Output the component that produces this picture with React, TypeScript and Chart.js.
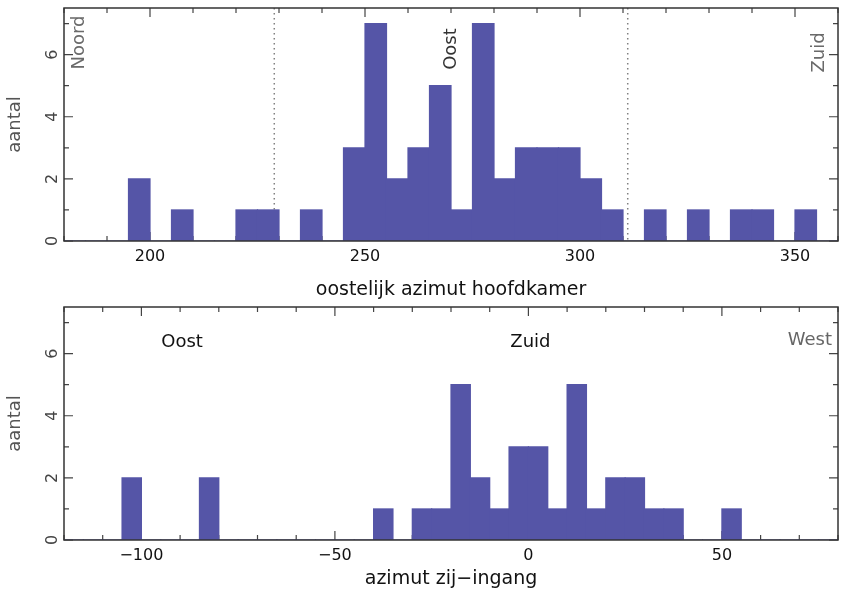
import React, { useEffect, useRef } from 'react';
import { Chart, registerables } from 'chart.js';

Chart.register(...registerables);

// ---- data: oostelijk azimut hoofdkamer (5 degree bins, bin start values)
const mainBinStarts = [180, 185, 190, 195, 200, 205, 210, 215, 220, 225, 230, 235, 240, 245, 250, 255, 260, 265, 270, 275, 280, 285, 290, 295, 300, 305, 310, 315, 320, 325, 330, 335, 340, 345, 350, 355];
const mainCounts = [0, 0, 0, 2, 0, 1, 0, 0, 1, 1, 0, 1, 0, 3, 7, 2, 3, 5, 1, 7, 2, 3, 3, 3, 2, 1, 0, 1, 0, 1, 0, 1, 1, 0, 1, 0];
const mainRange = [180, 360];
const mainTickLabels = [200, 250, 300, 350];
const mainDirectionNames = ['Noord', 'Oost', 'Zuid'];
const mainDirectionAzimuths = [180, 270, 360];
const solsticeAzimuths = [228.9, 311.1];

// ---- data: azimut zij-ingang
const sideBinStarts = [-120, -115, -110, -105, -100, -95, -90, -85, -80, -75, -70, -65, -60, -55, -50, -45, -40, -35, -30, -25, -20, -15, -10, -5, 0, 5, 10, 15, 20, 25, 30, 35, 40, 45, 50, 55, 60, 65, 70, 75];
const sideCounts = [0, 0, 0, 2, 0, 0, 0, 2, 0, 0, 0, 0, 0, 0, 0, 0, 1, 0, 1, 1, 5, 2, 1, 3, 3, 1, 5, 1, 2, 2, 1, 1, 0, 0, 1, 0, 0, 0, 0, 0];
const sideRange = [-120, 80];
const sideTickLabels = [-100, -50, 0, 50];
const sideDirectionNames = ['Oost', 'Zuid', 'West'];
const sideDirectionAzimuths = [-90, 0, 90];

const binWidth = 5;
const countMax = 7.5;
const countTickLabels = [0, 2, 4, 6];

const FONT = "'DejaVu Sans', 'Liberation Sans', sans-serif";
const BAR = '#5555a7';

const fmt = (v: number) => (v < 0 ? '\u2212' + Math.abs(v) : String(v));

type PanelSpec = {
  height: number;
  padTop: number;
  xHeight: number;
  titleBottom: number;
  starts: number[];
  counts: number[];
  range: number[];
  tickLabels: number[];
  title: string;
  dirNames: string[];
  dirValues: number[];
  dotted: number[];
  rotatedLabels: boolean;
  labelDy: number[];
  labelColors: string[];
};

function makeDecor(spec: PanelSpec) {
  return {
    id: 'decor',
    beforeDatasetsDraw(chart: any) {
      const { ctx, chartArea: a, scales } = chart;
      const x = scales.x;
      const y = scales.y;
      ctx.save();
      // dotted reference lines
      ctx.strokeStyle = '#808080';
      ctx.lineWidth = 1.5;
      ctx.setLineDash([1.5, 3.5]);
      for (const v of spec.dotted) {
        const px = x.getPixelForValue(v);
        ctx.beginPath();
        ctx.moveTo(px, a.top);
        ctx.lineTo(px, a.bottom);
        ctx.stroke();
      }
      ctx.setLineDash([]);
      // inward ticks
      ctx.strokeStyle = '#444';
      ctx.lineWidth = 1.2;
      for (const t of x.ticks) {
        const px = x.getPixelForValue(t.value);
        const len = t.label !== '' ? 9 : 5;
        ctx.beginPath();
        ctx.moveTo(px, a.bottom);
        ctx.lineTo(px, a.bottom - len);
        ctx.moveTo(px, a.top);
        ctx.lineTo(px, a.top + len);
        ctx.stroke();
      }
      for (const t of y.ticks) {
        const py = y.getPixelForValue(t.value);
        const len = t.label !== '' ? 9 : 5;
        ctx.beginPath();
        ctx.moveTo(a.left, py);
        ctx.lineTo(a.left + len, py);
        ctx.moveTo(a.right, py);
        ctx.lineTo(a.right - len, py);
        ctx.stroke();
      }
      ctx.restore();
    },
    afterDraw(chart: any) {
      const { ctx, chartArea: a, scales } = chart;
      const x = scales.x;
      ctx.save();
      ctx.strokeStyle = '#333';
      ctx.lineWidth = 1.5;
      ctx.strokeRect(a.left, a.top, a.right - a.left, a.bottom - a.top);
      ctx.font = `18px ${FONT}`;
      ctx.textBaseline = 'middle';
      spec.dirNames.forEach((name, i) => {
        const px = x.getPixelForValue(spec.dirValues[i]);
        const cy = a.top + spec.labelDy[i];
        ctx.fillStyle = spec.labelColors[i];
        if (spec.rotatedLabels) {
          const cx = Math.min(Math.max(px, a.left + 15.5), a.right - 19);
          ctx.save();
          ctx.translate(cx, cy);
          ctx.rotate(-Math.PI / 2);
          ctx.textAlign = 'center';
          ctx.fillText(name, 0, 0);
          ctx.restore();
        } else {
          const w = ctx.measureText(name).width;
          if (px + w / 2 > a.right - 6) {
            ctx.textAlign = 'right';
            ctx.fillText(name, a.right - 6, cy);
          } else {
            ctx.textAlign = 'center';
            ctx.fillText(name, px + 2, cy);
          }
        }
      });
      ctx.restore();
    },
  };
}

function makeConfig(spec: PanelSpec): any {
  return {
    type: 'bar',
    data: {
      datasets: [
        {
          data: spec.starts.map((s, i) => ({ x: s + binWidth / 2, y: spec.counts[i] })),
          backgroundColor: BAR,
          borderWidth: 0,
          inflateAmount: 0.6,
          barPercentage: 1,
          categoryPercentage: 1,
        },
      ],
    },
    options: {
      responsive: false,
      animation: false,
      devicePixelRatio: 1,
      layout: { padding: { top: spec.padTop, right: 8, left: 0, bottom: 0 } },
      plugins: { legend: { display: false }, tooltip: { enabled: false } },
      scales: {
        x: {
          type: 'linear',
          min: spec.range[0],
          max: spec.range[1],
          offset: false,
          grid: { display: false, drawTicks: false },
          border: { display: false },
          ticks: {
            stepSize: 10,
            autoSkip: false,
            minRotation: 0,
            maxRotation: 0,
            padding: 6,
            color: '#111',
            font: { family: FONT, size: 16 },
            callback: (v: number) => (spec.tickLabels.includes(v) ? fmt(v) : ''),
          },
          title: {
            display: true,
            text: spec.title,
            color: '#111',
            font: { family: FONT, size: 19, lineHeight: 1 },
            padding: { top: 0, bottom: spec.titleBottom },
          },
          afterFit: (s: any) => {
            s.height = spec.xHeight;
            s.paddingLeft = 0;
            s.paddingRight = 0;
          },
        },
        y: {
          type: 'linear',
          min: 0,
          max: countMax,
          grid: { display: false, drawTicks: false },
          border: { display: false },
          ticks: {
            stepSize: 1,
            includeBounds: false,
            autoSkip: false,
            minRotation: 90,
            maxRotation: 90,
            crossAlign: 'center',
            padding: 6,
            color: '#444',
            font: { family: FONT, size: 16 },
            callback: (v: number) => (countTickLabels.includes(v) ? String(v) : ''),
          },
          title: {
            display: true,
            text: 'aantal',
            color: '#555',
            font: { family: FONT, size: 18, lineHeight: 1 },
            padding: { top: 6.5, bottom: 0 },
          },
          afterFit: (s: any) => {
            s.width = 64;
            s.paddingTop = 0;
            s.paddingBottom = 0;
          },
        },
      },
    },
    plugins: [makeDecor(spec)],
  };
}

const topSpec: PanelSpec = {
  height: 300,
  padTop: 8,
  xHeight: 59,
  titleBottom: 0,
  starts: mainBinStarts,
  counts: mainCounts,
  range: mainRange,
  tickLabels: mainTickLabels,
  title: 'oostelijk azimut hoofdkamer',
  dirNames: mainDirectionNames,
  dirValues: mainDirectionAzimuths,
  dotted: solsticeAzimuths,
  rotatedLabels: true,
  labelDy: [34.5, 41, 44.5],
  labelColors: ['#6a6a6a', '#333', '#6a6a6a'],
};

const bottomSpec: PanelSpec = {
  height: 296,
  padTop: 7,
  xHeight: 56,
  titleBottom: 7,
  starts: sideBinStarts,
  counts: sideCounts,
  range: sideRange,
  tickLabels: sideTickLabels,
  title: 'azimut zij\u2212ingang',
  dirNames: sideDirectionNames,
  dirValues: sideDirectionAzimuths,
  dotted: [],
  rotatedLabels: false,
  labelDy: [35.5, 35.5, 33.5],
  labelColors: ['#111', '#111', '#666'],
};

function Panel({ spec }: { spec: PanelSpec }) {
  const ref = useRef<HTMLCanvasElement>(null);
  useEffect(() => {
    const chart = new Chart(ref.current as HTMLCanvasElement, makeConfig(spec));
    return () => chart.destroy();
  }, [spec]);
  return (
    <canvas
      ref={ref}
      width={846}
      height={spec.height}
      style={{ display: 'block', width: 846, height: spec.height }}
    />
  );
}

export default function App() {
  return (
    <div style={{ position: 'absolute', left: 0, top: 0, width: 846, height: 596, background: '#fff' }}>
      <Panel spec={topSpec} />
      <Panel spec={bottomSpec} />
    </div>
  );
}
